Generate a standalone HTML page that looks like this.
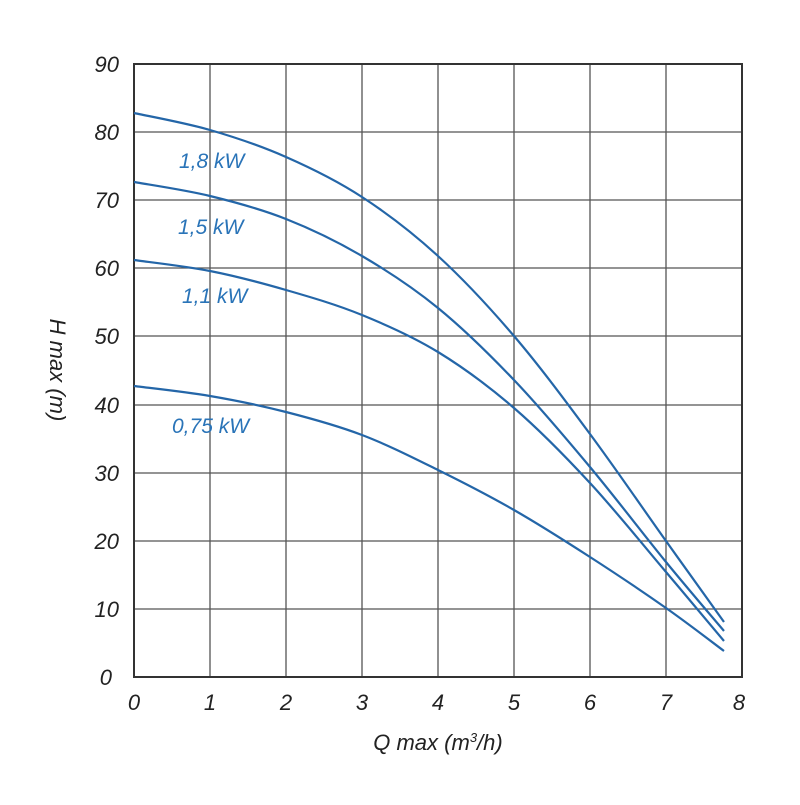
<!DOCTYPE html>
<html><head><style>
body{margin:0;background:#fff;}
svg text{font-family:"Liberation Sans",sans-serif;font-style:italic;}
</style></head><body>
<svg width="800" height="800" viewBox="0 0 800 800" xmlns="http://www.w3.org/2000/svg">
<g stroke="#555" stroke-width="1.3">
<line x1="210" y1="64" x2="210" y2="677"/><line x1="286" y1="64" x2="286" y2="677"/>
<line x1="362" y1="64" x2="362" y2="677"/><line x1="438" y1="64" x2="438" y2="677"/>
<line x1="514" y1="64" x2="514" y2="677"/><line x1="590" y1="64" x2="590" y2="677"/>
<line x1="666" y1="64" x2="666" y2="677"/>
<line x1="134" y1="132" x2="742" y2="132"/><line x1="134" y1="200" x2="742" y2="200"/>
<line x1="134" y1="268" x2="742" y2="268"/><line x1="134" y1="336" x2="742" y2="336"/>
<line x1="134" y1="405" x2="742" y2="405"/><line x1="134" y1="473" x2="742" y2="473"/>
<line x1="134" y1="541" x2="742" y2="541"/><line x1="134" y1="609" x2="742" y2="609"/>
</g>
<rect x="134" y="64" width="608" height="613" fill="none" stroke="#333" stroke-width="2"/>
<g id="curves" fill="none" stroke="#2466a8" stroke-width="2.2"></g>
<g font-size="22" fill="#222" text-anchor="end">
<text x="119" y="72">90</text><text x="119" y="140">80</text><text x="119" y="208">70</text>
<text x="119" y="276">60</text><text x="119" y="344">50</text><text x="119" y="413">40</text>
<text x="119" y="481">30</text><text x="119" y="549">20</text><text x="119" y="617">10</text>
<text x="112" y="685">0</text>
</g>
<g font-size="22" fill="#222" text-anchor="middle">
<text x="134" y="710">0</text><text x="210" y="710">1</text><text x="286" y="710">2</text>
<text x="362" y="710">3</text><text x="438" y="710">4</text><text x="514" y="710">5</text>
<text x="590" y="710">6</text><text x="666" y="710">7</text><text x="739" y="710">8</text>
<text x="438" y="750">Q max (m<tspan font-size="13" dy="-8">3</tspan><tspan dy="8">/h)</tspan></text>
<text transform="translate(50,370) rotate(90)">H max (m)</text>
</g>
<g font-size="21" fill="#2a74b8">
<text x="179" y="168">1,8 kW</text><text x="178" y="234">1,5 kW</text>
<text x="182" y="303">1,1 kW</text><text x="172" y="433">0,75 kW</text>
</g>
</svg>
<script>
var xs=[134,210,286,362,438,514,590,666,724];
var data=[[113,130,157,197,256,336,434,541,622],[182,196,219,256,308,380,467,562,631],[260,271,290,315,352,408,483,572,641],[386,396,412,435,470,510,557,608,651]];
var g=document.getElementById('curves');
data.forEach(function(ys){
 var p=xs.map(function(x,i){return [x,ys[i]];});
 var d='M'+p[0][0]+','+p[0][1];
 for(var i=0;i<p.length-1;i++){
  var p0=p[Math.max(i-1,0)],p1=p[i],p2=p[i+1],p3=p[Math.min(i+2,p.length-1)];
  var c1=[p1[0]+(p2[0]-p0[0])/6,p1[1]+(p2[1]-p0[1])/6];
  var c2=[p2[0]-(p3[0]-p1[0])/6,p2[1]-(p3[1]-p1[1])/6];
  d+=' C'+c1+' '+c2+' '+p2;
 }
 var e=document.createElementNS('http://www.w3.org/2000/svg','path');
 e.setAttribute('d',d);g.appendChild(e);
});
</script>
</body></html>
